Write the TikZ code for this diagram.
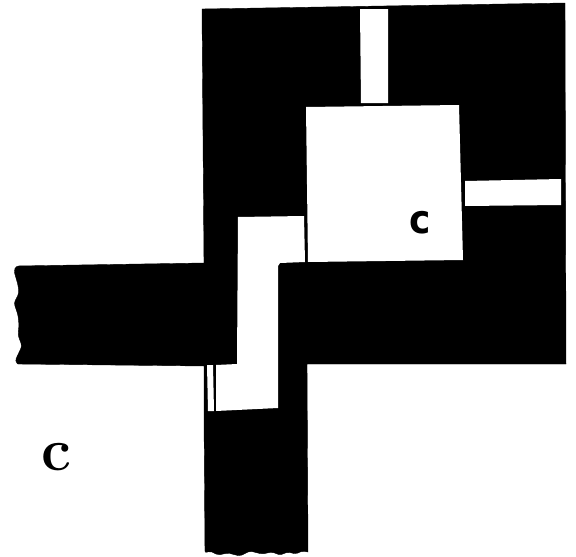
\documentclass[tikz,border=0pt]{standalone}
\usepackage{fontspec}
\setsansfont{DejaVu Sans}
\begin{document}
\begin{tikzpicture}[
    x=0.75pt, y=-0.75pt,
    wall/.style={fill=black, draw=black, line width=0.3pt, line join=round},
    gap/.style={fill=white, draw=none},
    mark label/.style={text=black, inner sep=0pt},
]
\useasboundingbox (0,0) rectangle (576,557);
% solid part
\fill[wall] (202,9) -- (565,3) -- (566,364) -- (307,364) -- (308,552)
    [rounded corners=1.5pt] -- (302,551) -- (296,554) -- (288,552) -- (280,555) -- (272,552) -- (262,554)
    -- (250,551) -- (240,556) -- (228,553) -- (218,555) -- (210,551) -- (205,553)
    [sharp corners] -- (204,414) -- (204,366) -- (18,364)
    [rounded corners=2pt] -- (15,361) -- (22,346) -- (18,335)
    -- (19,325) -- (18,315) -- (14,303) -- (19,293) -- (18,285) -- (14,271)
    -- (16,266) [sharp corners] -- (204,263) -- cycle;
% openings
\fill[gap] (360,9) -- (388,9) -- (388,103) -- (361,103) -- cycle;
\fill[gap] (306,107) -- (459,105) -- (463,260) -- (308,262) -- cycle;
\fill[gap] (465,181) -- (561,179) -- (561,205) -- (465,206) -- cycle;
\fill[gap] (238,217) -- (304,216) -- (305,262) -- (280,263) -- (278,266) -- (278,408)
    -- (216,411) -- (216,365) -- (237,364) -- cycle;
\fill[gap] (207,365) -- (213,365) -- (214,411) -- (208,411) -- cycle;
\node[mark label, font=\sffamily\bfseries\fontsize{27}{27}\selectfont, yscale=1.1] (inner) at (420,223) {c};
\node[mark label, font=\bfseries\fontsize{45}{45}\selectfont] (outer) at (56,457) {c};
\end{tikzpicture}
\end{document}
